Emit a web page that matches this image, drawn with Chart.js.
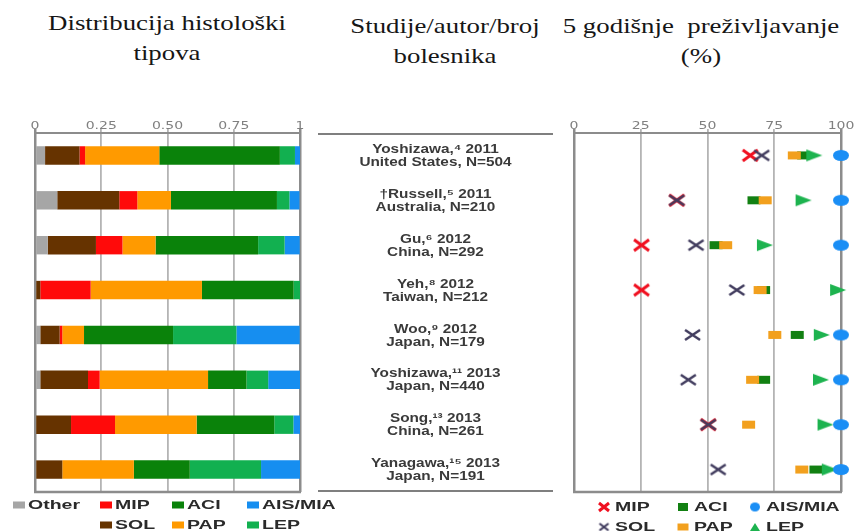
<!DOCTYPE html>
<html>
<head>
<meta charset="utf-8">
<script src="https://cdn.jsdelivr.net/npm/chart.js@4.4.1/dist/chart.umd.min.js"></script>
<style>
  html, body { margin: 0; padding: 0; background: #fff; }
  body { width: 855px; height: 531px; position: relative; overflow: hidden; }
  .head {
    position: absolute; width: 400px; text-align: center;
    font-family: "Liberation Serif", serif; font-size: 22px; line-height: 30px;
    color: #161616; white-space: pre; transform: scaleX(1.22);
  }
  #distChart { position: absolute; left: 0; top: 100px; }
  #survChart { position: absolute; left: 310px; top: 100px; }
</style>
</head>
<body>
<div class="head" style="left:-33px; top:8px;">Distribucija histološki<br>tipova</div>
<div class="head" style="left:245px; top:11px;">Studije/autor/broj<br>bolesnika</div>
<div class="head" style="left:501px; top:11px;">5 godišnje  preživljavanje<br>(%)</div>
<canvas id="survChart" width="545" height="431"></canvas>
<canvas id="distChart" width="350" height="431"></canvas>
<script>
// studies (two text lines each)
const studies = [
  ['Yoshizawa,⁴ 2011', 'United States, N=504'],
  ['†Russell,⁵ 2011', 'Australia, N=210'],
  ['Gu,⁶ 2012', 'China, N=292'],
  ['Yeh,⁸ 2012', 'Taiwan, N=212'],
  ['Woo,⁹ 2012', 'Japan, N=179'],
  ['Yoshizawa,¹¹ 2013', 'Japan, N=440'],
  ['Song,¹³ 2013', 'China, N=261'],
  ['Yanagawa,¹⁵ 2013', 'Japan, N=191']
];

// share of histologic subtypes (fraction of patients)
const otherShare = [0.038, 0.084, 0.048, 0, 0.02, 0.02, 0.004, 0];
const solShare   = [0.13, 0.234, 0.182, 0.02, 0.073, 0.18, 0.132, 0.103];
const mipShare   = [0.021, 0.068, 0.10, 0.19, 0.01, 0.044, 0.166, 0];
const papShare   = [0.28, 0.127, 0.125, 0.42, 0.082, 0.409, 0.308, 0.27];
const aciShare   = [0.455, 0.40, 0.387, 0.346, 0.336, 0.145, 0.293, 0.211];
const lepShare   = [0.057, 0.047, 0.10, 0.025, 0.239, 0.082, 0.072, 0.269];
const aisShare   = [0.019, 0.038, 0.057, 0, 0.239, 0.12, 0.025, 0.148];

// 5-year survival (%)
const survMIP = [66, 38.5, 25.3, 25.3, null, null, 50.3, null];
const survSOL = [70.3, 38.5, 45.7, 61, 44.4, 42.8, 50.3, 54];
const survPAP = [82.5, 71.6, 56.8, 69.7, 75.2, 66.9, 65.4, 85.3];
const survACI = [86, 67.4, 53.2, 71, 83.6, 71, null, 90.6];
const survLEP = [90, 86, 71.5, 98.9, 92.8, 92.5, 94.2, 95.8];
const survAIS = [100, 100, 100, null, 100, 100, 100, 100];

const distTicks = ['0', '0.25', '0.50', '0.75', '1'];
const survTicks = ['0', '25', '50', '75', '100'];

const colors = {
  'Other': '#a6a6a6', 'SOL': '#663300', 'MIP': '#ff0a0a', 'PAP': '#ff9a00',
  'ACI': '#0a820a', 'LEP': '#12b050', 'AIS/MIA': '#168ef0'
};
const markColors = {
  'MIP': '#f01020', 'SOL': '#413c5e', 'PAP': '#f2a01e',
  'ACI': '#128012', 'LEP': '#1db34f', 'AIS/MIA': '#1a8ef5'
};

Chart.defaults.font.family = '"Liberation Sans", Arial, sans-serif';
Chart.defaults.animation = false;

function stretchText(ctx, text, x, y, font, sx, align, color) {
  ctx.save();
  ctx.font = font;
  ctx.fillStyle = color;
  ctx.textAlign = align;
  ctx.textBaseline = 'middle';
  ctx.translate(x, y);
  ctx.scale(sx, 1);
  ctx.fillText(text, 0, 0);
  ctx.restore();
}

function makeMarker(kind, color, w, h, lw) {
  const pad = 2;
  const c = document.createElement('canvas');
  c.width = w + pad * 2;
  c.height = h + pad * 2;
  const g = c.getContext('2d');
  g.translate(pad, pad);
  g.fillStyle = color;
  g.strokeStyle = color;
  g.lineWidth = lw || 2;
  g.beginPath();
  if (kind === 'x') {
    g.moveTo(0, 0); g.lineTo(w, h); g.moveTo(w, 0); g.lineTo(0, h); g.stroke();
  } else if (kind === 'rect') {
    g.fillRect(0, 0, w, h);
  } else if (kind === 'ellipse') {
    g.ellipse(w / 2, h / 2, w / 2, h / 2, 0, 0, Math.PI * 2); g.fill();
  } else if (kind === 'triRight') {
    g.moveTo(0, 0); g.lineTo(w, h / 2); g.lineTo(0, h); g.closePath(); g.fill();
  } else if (kind === 'triUp') {
    g.moveTo(w / 2, 0); g.lineTo(w, h); g.lineTo(0, h); g.closePath(); g.fill();
  }
  return c;
}

function gridColor(max) {
  return c => (c.tick && (c.tick.value === 0 || c.tick.value === max)) ? '#8c8c8c' : '#b4b4b4';
}
function gridWidth(max) {
  return c => (c.tick && (c.tick.value === 0 || c.tick.value === max)) ? 2.5 : 1.8;
}

function drawFrame(chart) {
  const { ctx, chartArea: a } = chart;
  ctx.save();
  ctx.strokeStyle = '#8c8c8c';
  ctx.lineWidth = 2.5;
  ctx.beginPath();
  ctx.moveTo(a.left - 1, a.bottom);
  ctx.lineTo(a.right + 1, a.bottom);
  ctx.stroke();
  ctx.restore();
  const sc = chart.scales.x;
  sc.ticks.forEach(t => {
    stretchText(ctx, t.label, sc.getPixelForValue(t.value), a.top - 7,
      '10px "DejaVu Sans"', 1.4, 'center', '#808080');
  });
}

const legendFont = 'bold 13px "Liberation Sans"';

// ---------- left: stacked distribution ----------
const leftLegend = [
  ['Other', 13, 0], ['MIP', 100, 0], ['ACI', 172, 0], ['AIS/MIA', 247, 0],
  ['SOL', 100, 1], ['PAP', 172, 1], ['LEP', 247, 1]
];

const distPlugin = {
  id: 'distDeco',
  afterDraw(chart) {
    drawFrame(chart);
    const ctx = chart.ctx;
    leftLegend.forEach(([name, x, row]) => {
      const y = 405 + row * 20;
      ctx.fillStyle = colors[name];
      ctx.fillRect(x, y - 3.5, 12, 7);
      stretchText(ctx, name, x + 15, y, legendFont, 1.5, 'left', '#2a2a2a');
    });
  }
};

const distSeries = [
  ['Other', otherShare], ['SOL', solShare], ['MIP', mipShare], ['PAP', papShare],
  ['ACI', aciShare], ['LEP', lepShare], ['AIS/MIA', aisShare]
];

new Chart(document.getElementById('distChart'), {
  type: 'bar',
  data: {
    labels: studies.map(s => s[0]),
    datasets: distSeries.map(([name, vals]) => ({
      label: name,
      data: vals,
      backgroundColor: colors[name],
      borderWidth: 0,
      barPercentage: 0.41,
      categoryPercentage: 1
    }))
  },
  options: {
    responsive: false,
    indexAxis: 'y',
    layout: { autoPadding: false, padding: { left: 35, right: 50, top: 13, bottom: 39 } },
    plugins: { legend: { display: false }, tooltip: { enabled: false } },
    scales: {
      x: {
        position: 'top', stacked: true, min: 0, max: 1,
        ticks: { stepSize: 0.25, display: false, callback: (v, i) => distTicks[i] },
        grid: { color: gridColor(1), lineWidth: gridWidth(1), tickLength: 4 },
        border: { display: true, color: '#8c8c8c', width: 2 },
        afterFit: s => { s.height = 20; }
      },
      y: { stacked: true, display: false }
    }
  },
  plugins: [distPlugin]
});

// ---------- right: 5-year survival ----------
const marks = {
  'MIP': makeMarker('x', markColors.MIP, 15, 11, 3),
  'SOL': makeMarker('x', markColors.SOL, 15, 10, 2.5),
  'PAP': makeMarker('rect', markColors.PAP, 13, 8),
  'ACI': makeMarker('rect', markColors.ACI, 13, 8),
  'LEP': makeMarker('triRight', markColors.LEP, 16, 12),
  'AIS/MIA': makeMarker('ellipse', markColors['AIS/MIA'], 16, 11)
};
const legendMarks = {
  'MIP': makeMarker('x', markColors.MIP, 10, 8, 3),
  'SOL': makeMarker('x', markColors.SOL, 9, 7, 2.2),
  'PAP': makeMarker('rect', markColors.PAP, 11, 7),
  'ACI': makeMarker('rect', markColors.ACI, 10, 8),
  'LEP': makeMarker('triUp', markColors.LEP, 10, 8),
  'AIS/MIA': makeMarker('ellipse', markColors['AIS/MIA'], 10, 9)
};

const rightLegend = [
  ['MIP', 294, 0], ['ACI', 373, 0], ['AIS/MIA', 445, 0],
  ['SOL', 294, 1], ['PAP', 373, 1], ['LEP', 445, 1]
];

const survPlugin = {
  id: 'survDeco',
  afterDraw(chart) {
    drawFrame(chart);
    const ctx = chart.ctx;
    const a = chart.chartArea;
    const y = chart.scales.y;
    // rules around the study column
    ctx.save();
    ctx.strokeStyle = '#555';
    ctx.lineWidth = 1.5;
    ctx.beginPath();
    ctx.moveTo(8, a.top + 1); ctx.lineTo(243, a.top + 1);
    ctx.moveTo(8, a.bottom - 1); ctx.lineTo(243, a.bottom - 1);
    ctx.stroke();
    ctx.restore();
    studies.forEach((s, i) => {
      const cy = y.getPixelForValue(i);
      stretchText(ctx, s[0], 125.5, cy - 6, 'bold 13px "Liberation Sans"', 1.18, 'center', '#3a3a3a');
      stretchText(ctx, s[1], 125.5, cy + 7, 'bold 13px "Liberation Sans"', 1.18, 'center', '#3a3a3a');
    });
    rightLegend.forEach(([name, x, row]) => {
      const ly = 407 + row * 20;
      const m = legendMarks[name];
      ctx.drawImage(m, x - m.width / 2, ly - m.height / 2);
      stretchText(ctx, name, x + 11, ly, legendFont, 1.5, 'left', '#2a2a2a');
    });
  }
};

const survSeries = [
  ['AIS/MIA', survAIS], ['LEP', survLEP], ['PAP', survPAP],
  ['ACI', survACI], ['SOL', survSOL], ['MIP', survMIP]
];

new Chart(document.getElementById('survChart'), {
  type: 'line',
  data: {
    labels: studies.map(s => s[0]),
    datasets: survSeries.map(([name, vals]) => ({
      label: name,
      data: vals,
      showLine: false,
      pointStyle: marks[name],
      pointRadius: 6,
      pointBorderWidth: 0,
      clip: false
    }))
  },
  options: {
    responsive: false,
    indexAxis: 'y',
    layout: { autoPadding: false, padding: { left: 264, right: 14, top: 13, bottom: 39 } },
    plugins: { legend: { display: false }, tooltip: { enabled: false } },
    scales: {
      x: {
        type: 'linear', position: 'top', min: 0, max: 100,
        ticks: { stepSize: 25, display: false, callback: (v, i) => survTicks[i] },
        grid: { color: gridColor(100), lineWidth: gridWidth(100), tickLength: 4 },
        border: { display: true, color: '#8c8c8c', width: 2 },
        afterFit: s => { s.height = 20; }
      },
      y: { type: 'category', offset: true, display: false }
    }
  },
  plugins: [survPlugin]
});
</script>
</body>
</html>
